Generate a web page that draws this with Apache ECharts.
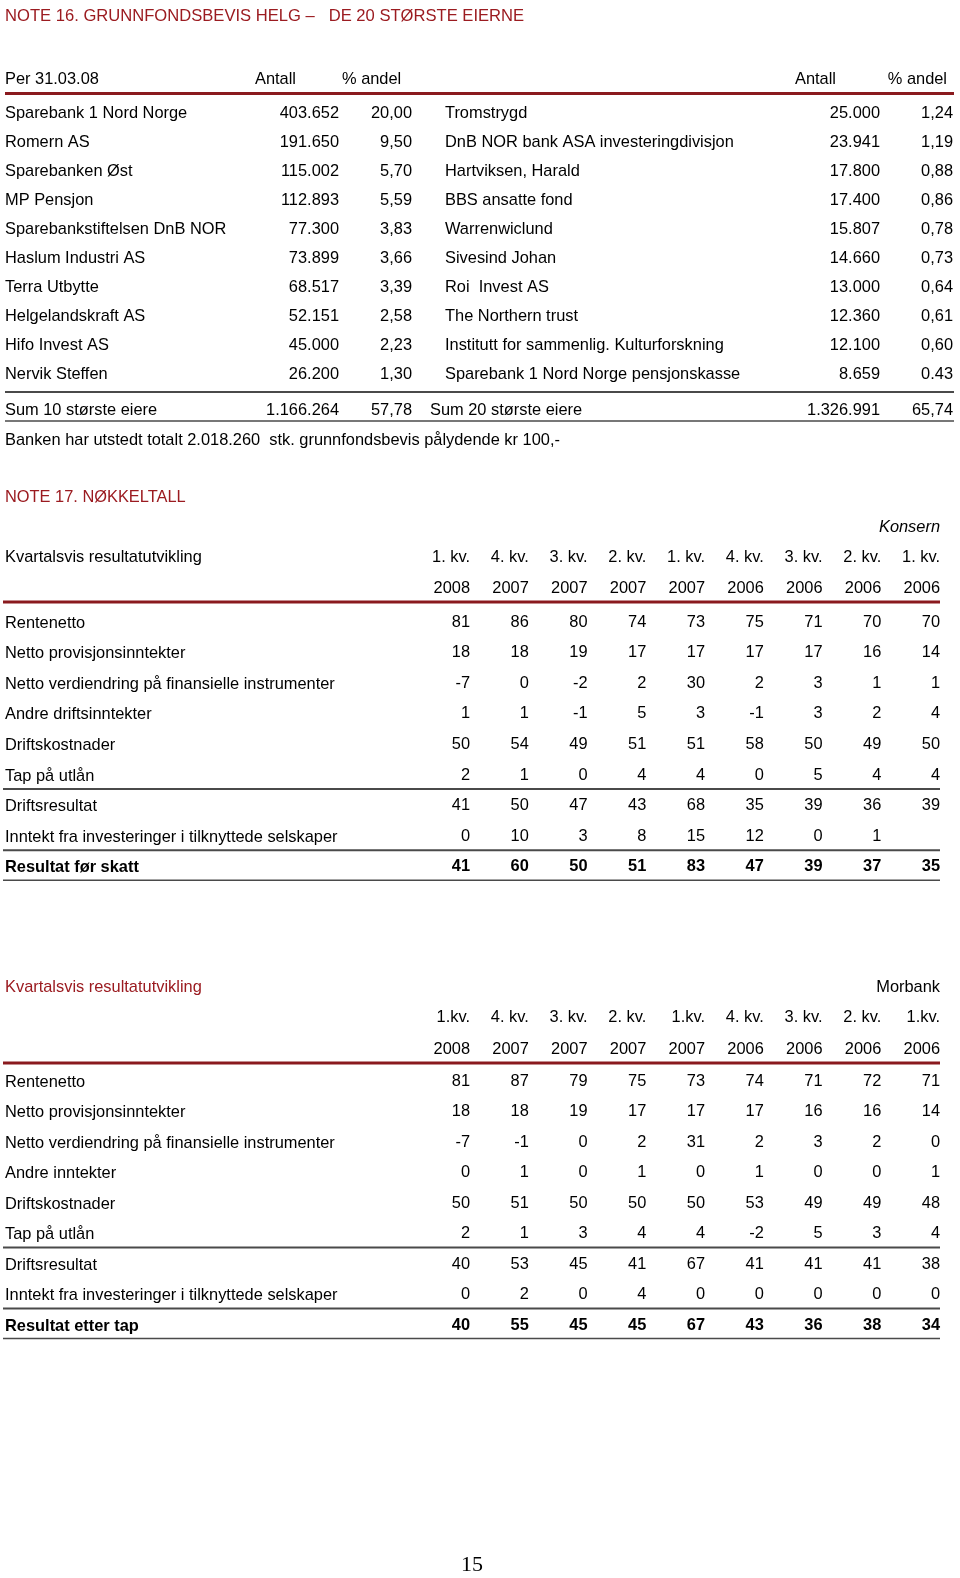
<!DOCTYPE html>
<html>
<head>
<meta charset="utf-8">
<script src="https://cdn.jsdelivr.net/npm/echarts@6/dist/echarts.min.js"></script>
<style>
  html, body { margin: 0; padding: 0; background: #fff; }
  #main { width: 960px; height: 1578px; }
</style>
</head>
<body>
<div id="main"></div>
<script>
// ---- data: note 16 ----
const note16Title = "NOTE 16. GRUNNFONDSBEVIS HELG –   DE 20 STØRSTE EIERNE";
const ownersHeader = ["Per 31.03.08", "Antall", "% andel", "Antall", "% andel"];
const ownersLeftNames = ["Sparebank 1 Nord Norge", "Romern AS", "Sparebanken Øst", "MP Pensjon",
  "Sparebankstiftelsen DnB NOR", "Haslum Industri AS", "Terra Utbytte", "Helgelandskraft AS",
  "Hifo Invest AS", "Nervik Steffen"];
const ownersLeftCount = ["403.652", "191.650", "115.002", "112.893", "77.300", "73.899", "68.517", "52.151", "45.000", "26.200"];
const ownersLeftPct = ["20,00", "9,50", "5,70", "5,59", "3,83", "3,66", "3,39", "2,58", "2,23", "1,30"];
const ownersRightNames = ["Tromstrygd", "DnB NOR bank ASA investeringdivisjon", "Hartviksen, Harald",
  "BBS ansatte fond", "Warrenwiclund", "Sivesind Johan", "Roi  Invest AS", "The Northern trust",
  "Institutt for sammenlig. Kulturforskning", "Sparebank 1 Nord Norge pensjonskasse"];
const ownersRightCount = ["25.000", "23.941", "17.800", "17.400", "15.807", "14.660", "13.000", "12.360", "12.100", "8.659"];
const ownersRightPct = ["1,24", "1,19", "0,88", "0,86", "0,78", "0,73", "0,64", "0,61", "0,60", "0.43"];
const ownersSum = ["Sum 10 største eiere", "1.166.264", "57,78", "Sum 20 største eiere", "1.326.991", "65,74"];
const ownersNote = "Banken har utstedt totalt 2.018.260  stk. grunnfondsbevis pålydende kr 100,-";

// ---- data: note 17 ----
const note17Title = "NOTE 17. NØKKELTALL";
const tableTitle = "Kvartalsvis resultatutvikling";
const konsernQuarters = ["1. kv.", "4. kv.", "3. kv.", "2. kv.", "1. kv.", "4. kv.", "3. kv.", "2. kv.", "1. kv."];
const morbankQuarters = ["1.kv.", "4. kv.", "3. kv.", "2. kv.", "1.kv.", "4. kv.", "3. kv.", "2. kv.", "1.kv."];
const years = ["2008", "2007", "2007", "2007", "2007", "2006", "2006", "2006", "2006"];

const konsernRows = ["Rentenetto", "Netto provisjonsinntekter", "Netto verdiendring på finansielle instrumenter",
  "Andre driftsinntekter", "Driftskostnader", "Tap på utlån", "Driftsresultat",
  "Inntekt fra investeringer i tilknyttede selskaper", "Resultat før skatt"];
const konsernValues = [
  [81, 86, 80, 74, 73, 75, 71, 70, 70],
  [18, 18, 19, 17, 17, 17, 17, 16, 14],
  [-7, 0, -2, 2, 30, 2, 3, 1, 1],
  [1, 1, -1, 5, 3, -1, 3, 2, 4],
  [50, 54, 49, 51, 51, 58, 50, 49, 50],
  [2, 1, 0, 4, 4, 0, 5, 4, 4],
  [41, 50, 47, 43, 68, 35, 39, 36, 39],
  [0, 10, 3, 8, 15, 12, 0, 1, null],
  [41, 60, 50, 51, 83, 47, 39, 37, 35]
];
const morbankRows = ["Rentenetto", "Netto provisjonsinntekter", "Netto verdiendring på finansielle instrumenter",
  "Andre inntekter", "Driftskostnader", "Tap på utlån", "Driftsresultat",
  "Inntekt fra investeringer i tilknyttede selskaper", "Resultat etter tap"];
const morbankValues = [
  [81, 87, 79, 75, 73, 74, 71, 72, 71],
  [18, 18, 19, 17, 17, 17, 16, 16, 14],
  [-7, -1, 0, 2, 31, 2, 3, 2, 0],
  [0, 1, 0, 1, 0, 1, 0, 0, 1],
  [50, 51, 50, 50, 50, 53, 49, 49, 48],
  [2, 1, 3, 4, 4, -2, 5, 3, 4],
  [40, 53, 45, 41, 67, 41, 41, 41, 38],
  [0, 2, 0, 4, 0, 0, 0, 0, 0],
  [40, 55, 45, 45, 67, 43, 36, 38, 34]
];
const pageNumber = "15";

// ---- styles ----
const RED = "#9b1b20";
const LINE_RED = "#8a1a1e";
const GREY = "#4a4a4a";
const FONT = "'Liberation Sans', Arial, sans-serif";
const FS = 16.4;
const DY = 2; // text baseline nudge

const els = [];
function txt(x, y, s, opt) {
  opt = opt || {};
  els.push({
    type: "text", x: x, y: y + DY, silent: true,
    style: {
      text: s, fill: opt.color || "#000",
      fontFamily: opt.family || FONT, fontSize: opt.size || FS,
      fontWeight: opt.bold ? "bold" : "normal", fontStyle: opt.italic ? "italic" : "normal",
      textAlign: opt.align || "left", textVerticalAlign: "middle",
      align: opt.align || "left", verticalAlign: "middle"
    }
  });
}
function hline(x1, x2, y, color, w) {
  els.push({ type: "line", silent: true, shape: { x1: x1, y1: y, x2: x2, y2: y },
    style: { stroke: color, lineWidth: w } });
}

// ---- note 16 ----
txt(5, 14, note16Title, { color: RED, size: 16.6 });
txt(5, 77, ownersHeader[0]);
txt(255, 77, ownersHeader[1]);
txt(342, 77, ownersHeader[2]);
txt(836, 77, ownersHeader[3], { align: "right" });
txt(947, 77, ownersHeader[4], { align: "right" });
hline(5, 954, 93.5, LINE_RED, 3);

const ownTop = 111, ownStep = 29.1;
ownersLeftNames.forEach(function (n, i) {
  const y = ownTop + i * ownStep;
  txt(5, y, n);
  txt(339, y, ownersLeftCount[i], { align: "right" });
  txt(412, y, ownersLeftPct[i], { align: "right" });
  txt(445, y, ownersRightNames[i]);
  txt(880, y, ownersRightCount[i], { align: "right" });
  txt(953, y, ownersRightPct[i], { align: "right" });
});
hline(5, 954, 392, GREY, 2);
txt(5, 408, ownersSum[0]);
txt(339, 408, ownersSum[1], { align: "right" });
txt(412, 408, ownersSum[2], { align: "right" });
txt(430, 408, ownersSum[3]);
txt(880, 408, ownersSum[4], { align: "right" });
txt(953, 408, ownersSum[5], { align: "right" });
hline(5, 954, 421, GREY, 1.5);
txt(5, 438, ownersNote);

// ---- note 17 ----
txt(5, 495, note17Title, { color: RED });
const colRight0 = 470, colStep = 58.75;

function quarterTable(cfg) {
  if (cfg.corner) txt(940, cfg.cornerY, cfg.corner, { align: "right", italic: cfg.cornerItalic });
  txt(5, cfg.titleY, tableTitle, { color: cfg.titleColor });
  cfg.quarters.forEach(function (q, j) {
    const x = colRight0 + j * colStep;
    txt(x, cfg.qY, q, { align: "right" });
    txt(x, cfg.yearY, years[j], { align: "right" });
  });
  hline(3, 940, cfg.yearY + 16, LINE_RED, 3);
  cfg.rows.forEach(function (r, i) {
    const y = cfg.rowTop + i * cfg.rowStep;
    const last = i === cfg.rows.length - 1;
    txt(5, y + 1, r, { bold: last });
    cfg.values[i].forEach(function (v, j) {
      if (v === null) return;
      txt(colRight0 + j * colStep, y, String(v), { align: "right", bold: last });
    });
  });
  // rules after "Tap på utlån", after investments, and under the result row
  [5, 7].forEach(function (i) {
    hline(3, 940, cfg.rowTop + i * cfg.rowStep + 16, GREY, 2);
  });
  hline(3, 940, cfg.rowTop + 8 * cfg.rowStep + 15.5, GREY, 1.5);
}

quarterTable({
  corner: "Konsern", cornerY: 525, cornerItalic: true, titleY: 555, titleColor: "#000",
  quarters: konsernQuarters, qY: 555, yearY: 586,
  rows: konsernRows, values: konsernValues, rowTop: 620, rowStep: 30.6
});
quarterTable({
  corner: "Morbank", cornerY: 985, cornerItalic: false, titleY: 985, titleColor: RED,
  quarters: morbankQuarters, qY: 1015, yearY: 1047,
  rows: morbankRows, values: morbankValues, rowTop: 1079, rowStep: 30.5
});

txt(472, 1563, pageNumber, { align: "center", family: "'Liberation Serif', 'Times New Roman', serif", size: 22 });

const myChart = echarts.init(document.getElementById("main"), null, { renderer: "canvas" });
myChart.setOption({
  animation: false,
  backgroundColor: "#fff",
  graphic: { elements: els }
});
</script>
</body>
</html>
